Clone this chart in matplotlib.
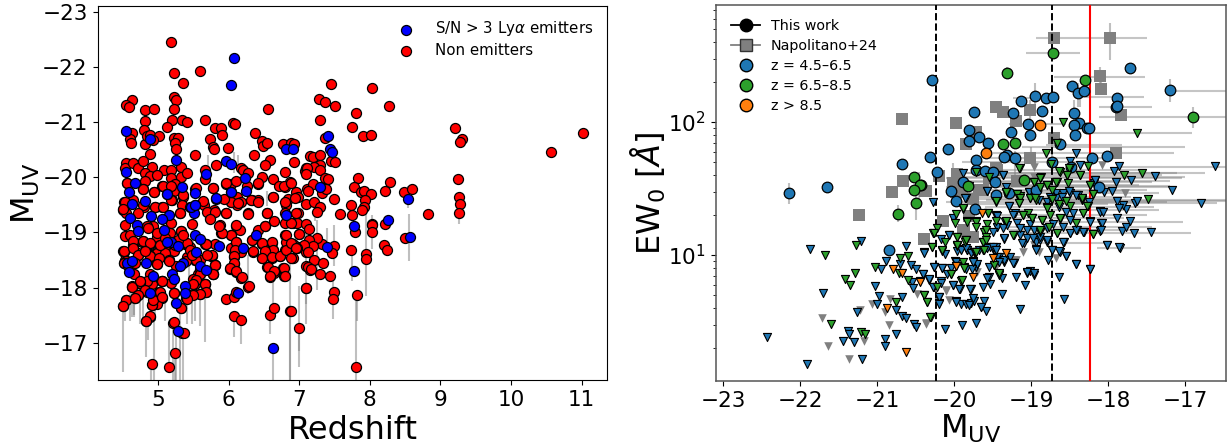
import numpy as np
import matplotlib
matplotlib.use("Agg")
import matplotlib.pyplot as plt
from matplotlib.lines import Line2D

# left panel, (redshift, M_UV)
non_emitters = np.array([
    [5.18,-22.44],[5.23,-21.88],[5.36,-21.71],[5.60,-21.92],[4.63,-21.39],[4.55,-21.31],[4.59,-21.27],[4.81,-21.22],
    [4.95,-21.24],[5.23,-21.45],[5.25,-21.40],[5.23,-21.23],[5.20,-21.04],[4.82,-21.01],[5.34,-21.03],[5.41,-21.00],
    [5.67,-21.04],[5.13,-20.91],[5.81,-20.90],[5.89,-20.90],[5.90,-20.77],[6.06,-20.99],[6.09,-20.96],[6.56,-21.23],
    [6.38,-20.81],[4.80,-20.86],[4.63,-20.80],[4.61,-20.69],[4.62,-20.62],[4.82,-20.60],[4.84,-20.74],[4.89,-20.77],
    [5.02,-20.75],[4.93,-20.68],[5.22,-20.71],[5.29,-20.71],[5.24,-20.62],[5.25,-20.52],[4.89,-20.43],[5.74,-20.70],
    [5.78,-20.54],[5.80,-20.52],[5.99,-20.53],[5.53,-20.40],[6.47,-20.66],[6.49,-20.57],[6.55,-20.62],[6.36,-20.41],
    [6.59,-20.32],[6.52,-20.22],[6.77,-20.61],[6.88,-20.62],[6.92,-20.60],[6.92,-20.28],
    [4.55,-20.26],[4.53,-20.17],[4.65,-20.26],[4.71,-20.17],[4.79,-20.30],[4.91,-20.18],[5.08,-20.14],[5.19,-20.13],
    [5.32,-20.18],[5.19,-19.99],[5.33,-20.00],[5.41,-20.07],[4.82,-20.08],[4.89,-20.02],[4.82,-19.93],[4.98,-20.04],
    [4.56,-19.90],[5.06,-19.84],[4.79,-19.78],[4.94,-19.73],[5.24,-19.87],[5.22,-19.75],[5.36,-19.65],[5.52,-19.78],
    [5.67,-20.13],[5.67,-19.97],[5.78,-19.81],[5.82,-20.22],[5.97,-19.88],[6.04,-19.88],[6.11,-19.93],[6.17,-20.16],
    [6.21,-20.14],[6.28,-20.08],[6.26,-19.84],[6.42,-19.88],[6.47,-20.01],[6.63,-19.97],[6.80,-20.10],[6.80,-19.82],
    [6.87,-19.91],[6.72,-19.85],[6.96,-19.73],[6.99,-19.64],[6.84,-19.61],[6.63,-19.64],[6.33,-19.59],[6.42,-19.58],
    [6.04,-19.55],[6.12,-19.65],[6.18,-19.56],[5.64,-19.56],[5.20,-19.58],[4.96,-19.47],[5.06,-19.46],[4.80,-19.47],
    [4.65,-19.59],[4.52,-19.56],[4.50,-19.41],[4.55,-19.35],[5.34,-19.50],[5.31,-19.35],[5.65,-19.50],[5.79,-19.40],
    [5.73,-19.26],[5.96,-19.35],[6.12,-19.50],[6.28,-19.35],[6.55,-19.35],[6.82,-19.50],[6.80,-19.35],[6.99,-19.36],
    [7.10,-19.52],[7.11,-19.78],[7.08,-20.11],[7.10,-20.17],[7.15,-20.38],
    [4.51,-17.67],[4.55,-17.77],[4.63,-18.01],[4.67,-17.82],[4.71,-17.86],[4.76,-18.07],[4.84,-17.92],[4.92,-18.07],
    [5.06,-18.12],[5.02,-17.93],[5.05,-17.82],[4.98,-17.71],[4.91,-17.69],[4.83,-17.40],[4.89,-17.47],[4.91,-16.62],
    [5.16,-16.56],[5.24,-16.81],[5.21,-17.37],[5.32,-17.64],[5.34,-17.18],[5.37,-17.18],[5.23,-17.91],[5.40,-17.81],
    [5.49,-17.88],[5.59,-17.89],[5.68,-17.92],[5.67,-18.06],[5.53,-18.06],[5.57,-18.16],[5.60,-18.25],[5.78,-18.25],
    [5.81,-18.41],[5.75,-18.58],[5.60,-18.51],[5.50,-18.57],[5.67,-18.79],[5.81,-18.80],[5.89,-18.99],[5.96,-17.79],
    [6.07,-17.48],[6.18,-17.42],[6.08,-17.83],[6.10,-17.92],[6.28,-18.01],[6.18,-18.18],[6.10,-18.28],[6.02,-18.34],
    [6.08,-18.43],[6.08,-18.56],[6.04,-18.72],[6.11,-18.83],[6.04,-18.95],[6.18,-18.65],[6.34,-18.65],[6.33,-18.86],
    [6.48,-18.80],[6.51,-18.65],[6.48,-18.53],[6.61,-18.81],[6.63,-18.68],[6.62,-18.54],[6.73,-18.57],[6.55,-18.37],
    [6.64,-18.27],[6.59,-18.19],[6.59,-17.50],[6.65,-17.64],[6.77,-18.36],[6.79,-18.22],[6.80,-18.68],[6.80,-18.95],
    [6.81,-18.83],[6.90,-18.54],[6.94,-18.75],[6.99,-18.74],[7.00,-18.97],[7.10,-18.65],[7.10,-18.39],[7.15,-18.33],
    [7.09,-17.99],[6.87,-17.58],[7.00,-17.28],[6.51,-19.11],[6.42,-19.04],[6.11,-19.11],[6.16,-19.05],[5.88,-19.13],
    [4.52,-18.65],[4.53,-18.50],[4.52,-18.45],[4.60,-18.37],[4.66,-18.25],[4.72,-18.60],[4.65,-18.77],[4.78,-18.83],
    [4.83,-18.71],[4.89,-18.80],[4.89,-18.57],[4.97,-18.63],[5.03,-18.77],[4.98,-18.92],[5.10,-19.03],[5.33,-19.01],
    [5.23,-18.69],[5.10,-18.68],[5.16,-18.50],[4.98,-18.43],[4.89,-18.25],[5.26,-18.40],[5.19,-18.08],[5.38,-18.80],
    [5.41,-18.56],[5.45,-18.74],[4.77,-18.10],
    [7.45,-21.68],[8.03,-21.62],[7.28,-21.42],[7.37,-21.36],[7.51,-21.29],[8.27,-21.29],[7.80,-21.17],[7.30,-21.04],
    [7.75,-20.91],[9.21,-20.89],[11.02,-20.80],[10.57,-20.45],[9.31,-20.69],[9.28,-20.63],[7.91,-20.74],[8.01,-20.77],
    [7.37,-20.71],[7.19,-20.36],[7.29,-20.40],[7.29,-20.23],[7.21,-20.19],[7.11,-20.17],[7.30,-20.14],[7.10,-20.06],
    [7.37,-19.99],[7.41,-19.97],[7.45,-20.29],[7.51,-20.27],[7.83,-19.99],[7.77,-19.82],[8.29,-19.91],[8.21,-19.76],
    [7.87,-19.73],[7.92,-19.76],[8.01,-19.70],[9.25,-19.97],[8.49,-19.73],[8.60,-19.78],[9.27,-19.65],[9.28,-19.52],
    [9.26,-19.36],[8.82,-19.33],[7.19,-19.88],[7.13,-19.76],[7.32,-19.72],[7.38,-19.78],[7.49,-19.61],[7.21,-19.56],
    [7.30,-19.47],[7.25,-19.37],[7.58,-19.34],[7.73,-19.50],[7.93,-19.58],[7.92,-19.47],[7.89,-19.40],[7.75,-19.32],
    [8.03,-19.16],
    [6.91,-19.17],[6.97,-19.17],[7.09,-19.15],[7.14,-19.06],[7.00,-18.97],[8.03,-19.14],[8.03,-19.00],[7.79,-19.01],
    [8.22,-19.16],[8.50,-18.90],[8.20,-18.77],[8.25,-18.68],[7.74,-18.69],[7.94,-18.61],[7.95,-18.52],[7.49,-18.76],
    [7.46,-18.63],[7.33,-18.79],[7.25,-18.90],[7.14,-18.87],[7.20,-18.75],[7.07,-18.78],[6.91,-18.79],[6.97,-18.72],
    [7.12,-18.65],[6.91,-18.54],[7.21,-18.51],[7.34,-18.44],[7.12,-18.38],[7.17,-18.34],[7.30,-18.25],[7.43,-18.21],
    [7.09,-17.99],[7.49,-17.93],[7.48,-17.80],[7.82,-17.86],[6.88,-17.58],[7.80,-16.56],
    [4.56,-19.90],[4.79,-19.78],[4.95,-19.73],[5.07,-19.84],[5.19,-19.84],[5.36,-19.67],[5.19,-19.58],[4.96,-19.47],
    [5.07,-19.46],[4.79,-19.50],[4.53,-19.56],[4.51,-19.43],[4.72,-19.35],[5.31,-19.35],[5.19,-19.17],[4.93,-19.11],
    [4.84,-19.11],[4.53,-19.14],[5.32,-19.02],[4.79,-18.85],[4.89,-18.80],[5.03,-18.78],[5.38,-18.81],[5.68,-18.79],
    [5.22,-18.66],[4.98,-18.63],[4.72,-18.62],[4.51,-18.66],[5.10,-18.63],[4.89,-18.58],[4.98,-18.45],[5.16,-18.50],
    [5.52,-18.51],[5.76,-18.58],[5.81,-18.42],[5.78,-18.24],[5.57,-18.24],[5.50,-18.15],[5.67,-18.06],[5.05,-18.12],
    [4.75,-18.09],[4.63,-18.03],[4.84,-18.12],[5.48,-19.16],[5.64,-19.57],[5.69,-19.38],[5.81,-19.38],[5.74,-19.24],
    [5.54,-19.81],[5.78,-19.81],[5.96,-19.35],[6.04,-19.55],[6.14,-19.53],[6.28,-19.34],[6.11,-19.13],[6.04,-18.96],
    [6.11,-18.83],[6.09,-18.69],[6.34,-18.66],[6.08,-18.57],[6.08,-18.44],[6.02,-18.36],[6.11,-18.30],[6.19,-18.19],
    [6.55,-19.35],[6.63,-19.64],[6.32,-19.58],[6.42,-19.56],[6.64,-19.20],[6.52,-19.11],[6.33,-18.87],[6.48,-18.81],
    [6.61,-18.82],[6.63,-18.69],[6.52,-18.66],[6.48,-18.53],[6.62,-18.56],[6.73,-18.57],[6.81,-18.68],[6.89,-18.54],
    [6.56,-18.38],[6.64,-18.30],[6.78,-18.36],[6.80,-18.22],[6.59,-18.21],[6.29,-18.03],[6.80,-19.17],[6.81,-18.96],
    [6.89,-19.17],[6.78,-19.84],[6.89,-19.90],[6.94,-19.63],[6.80,-19.56],[6.96,-19.35],[6.89,-18.81],[6.96,-18.72],
    [5.93,-19.60],[5.97,-19.89],[6.42,-19.89],[5.90,-18.99],[5.86,-19.11],
    [4.53,-18.93],[4.60,-18.96],[4.65,-18.84],[4.52,-18.66],[4.65,-18.72],[4.72,-18.60],[4.79,-18.84],[4.89,-18.81],
    [5.03,-18.78],[4.89,-18.57],[5.02,-18.54],[4.98,-18.43],[5.16,-18.49],[5.41,-18.81],[5.45,-18.69],[5.68,-18.79],
    [5.76,-18.59],[5.81,-18.42],[5.78,-18.25],[5.59,-18.34],[5.59,-18.24],[5.54,-18.14],[5.50,-18.07],[5.67,-18.07],
    [5.68,-17.92],[5.59,-17.89],[5.49,-17.87],[5.41,-17.80],[5.32,-17.64],[5.23,-17.90],[5.03,-17.93],[5.05,-18.12],
    [4.75,-18.08],[4.63,-18.02],[4.82,-17.96],[4.71,-17.86],[4.55,-17.78],[4.50,-17.67],[4.91,-17.69],[4.93,-17.78],
    [5.05,-17.84],[4.89,-17.48],[4.83,-17.40],[5.22,-17.38],[4.67,-17.81],[4.75,-18.12],[4.98,-18.99],[5.17,-18.99],
    [5.33,-19.02],[4.86,-19.09],[4.55,-18.48],[4.52,-18.45],[4.57,-18.40],[4.67,-18.45],[4.82,-18.66],[5.24,-18.78],
    [5.10,-18.90],[5.29,-18.87],[5.36,-18.96],[5.54,-18.51],[5.69,-18.60],[5.40,-18.48],[5.48,-18.60],
])

emitters = np.array([
    [6.08,-22.15],[6.03,-21.67],[4.54,-20.84],[4.88,-20.69],[5.26,-20.32],[4.54,-20.09],[4.68,-19.90],[4.59,-19.74],
    [4.63,-19.52],[4.81,-19.57],[5.13,-19.69],[5.34,-19.82],[5.52,-19.72],[5.68,-20.05],[5.97,-20.29],[6.04,-20.24],
    [6.23,-19.98],[6.25,-19.75],[6.03,-19.73],[5.82,-19.61],[5.53,-19.49],[5.46,-19.46],[5.51,-19.35],[5.16,-19.32],
    [4.90,-19.30],[5.05,-19.25],[4.61,-19.26],[6.81,-20.51],[6.91,-20.52],[6.82,-19.32],[4.70,-19.14],[4.71,-19.03],
    [5.08,-19.05],[5.53,-18.95],[5.59,-18.88],[5.86,-18.75],[6.39,-18.95],[6.20,-18.72],[5.18,-18.83],[5.29,-18.75],
    [5.54,-18.65],[4.56,-18.45],[4.63,-18.48],[4.83,-18.45],[4.59,-18.29],[4.93,-18.22],[4.89,-17.91],[5.20,-18.25],
    [5.23,-18.15],[5.35,-18.45],[5.31,-18.40],[5.60,-18.40],[5.68,-18.33],[5.38,-18.03],[5.38,-17.90],[5.25,-17.72],
    [5.28,-17.21],[6.14,-17.90],[6.63,-16.91],[7.41,-20.74],[7.44,-20.52],[7.46,-20.45],[7.29,-19.83],[8.54,-19.61],
    [8.26,-19.22],[7.78,-19.11],[8.57,-18.91],[7.40,-18.73],[7.77,-18.31],[5.13,-19.70],[5.47,-19.47],[5.53,-19.50],
    [5.82,-19.63],[6.03,-19.73],[5.13,-18.83],
])

# grey M_UV error bars, (redshift, top, bottom)
mag_bars = np.array([
    [4.50,-17.68,-16.47],[4.63,-17.95,-17.47],[4.66,-17.85,-17.47],[4.74,-17.90,-17.35],[4.83,-17.35,-16.74],
    [4.86,-17.40,-17.05],[4.90,-16.62,-16.33],[4.94,-17.40,-16.33],[5.16,-17.35,-16.56],[5.24,-16.80,-16.33],
    [5.26,-17.20,-16.33],[5.31,-17.60,-16.33],[5.35,-17.16,-16.33],[5.21,-17.35,-16.33],[5.48,-17.85,-17.35],
    [5.67,-17.85,-17.01],[6.07,-17.47,-17.10],[6.17,-17.40,-16.98],[6.28,-18.60,-17.89],[6.63,-18.16,-17.47],
    [6.63,-16.90,-16.33],[6.58,-17.47,-17.17],[6.87,-17.53,-16.33],[7.00,-17.23,-16.56],[7.10,-17.95,-17.35],
    [5.50,-18.90,-18.40],[5.71,-20.40,-20.13],[6.07,-20.45,-20.08],[6.14,-20.40,-20.13],[6.54,-19.75,-19.48],
    [6.40,-19.62,-19.48],[7.09,-19.10,-17.70],[7.00,-18.03,-16.85],[7.49,-19.14,-18.39],[7.40,-19.08,-18.63],
    [7.48,-18.20,-17.43],[7.25,-19.23,-17.96],[7.80,-17.78,-16.33],[7.82,-17.85,-17.39],[7.95,-19.35,-17.85],
    [8.56,-19.34,-18.48],[6.87,-18.50,-16.33],[8.03,-19.32,-18.70],[7.75,-18.72,-18.12],[9.27,-19.30,-19.15],
    [8.54,-19.85,-19.45],[7.23,-19.50,-19.20],
    [4.53,-17.80,-17.40],[4.61,-17.90,-17.40],[4.66,-17.85,-17.50],[4.79,-17.90,-17.45],[4.96,-17.85,-17.40],
    [5.10,-17.95,-17.40],[5.41,-17.80,-17.35],[5.52,-17.85,-17.40],[5.59,-17.85,-17.30],[5.44,-18.50,-17.90],
])

# right panel, (M_UV, log10 EW0)
circ_low = np.array([
    [-20.29,2.313],[-17.71,2.408],[-17.20,2.238],[-18.47,2.270],[-18.39,2.220],[-18.31,2.235],[-17.88,2.180],[-17.90,2.110],
    [-17.89,2.118],[-18.95,2.195],[-18.81,2.183],[-18.71,2.185],[-19.13,2.160],[-18.86,2.080],[-19.24,2.067],[-19.74,2.077],
    [-18.44,2.067],[-19.04,1.987],[-18.38,1.995],[-18.44,1.975],[-18.27,1.955],[-18.25,1.955],[-19.26,1.927],[-19.01,1.899],
    [-18.43,1.902],[-19.81,1.942],[-19.81,1.857],[-19.68,1.884],[-19.56,1.839],[-18.62,1.834],[-20.08,1.799],[-20.31,1.734],
    [-18.21,1.729],[-18.02,1.744],[-19.31,1.749],[-19.35,1.737],[-19.21,1.732],[-19.72,1.711],[-18.73,1.701],[-20.22,1.621],
    [-19.71,1.639],[-19.60,1.631],[-19.50,1.624],[-19.47,1.551],[-19.88,1.549],[-20.04,1.481],[-19.45,1.451],[-19.97,1.403],
    [-19.73,1.348],[-18.94,1.488],[-19.29,1.463],[-18.12,1.508],[-18.48,1.664],[-22.14,1.468],[-21.65,1.511],[-20.68,1.684],
    [-20.84,1.037],
])
circ_mid = np.array([
    [-19.31,2.371],[-18.71,2.516],[-18.30,2.318],[-16.90,2.037],[-19.37,1.837],[-19.21,1.842],[-19.09,1.561],[-19.82,1.521],
    [-20.43,1.524],[-20.52,1.589],[-20.44,1.524],[-20.52,1.488],[-20.50,1.391],[-20.73,1.308],
])
circ_high = np.array([[-18.89,1.975],[-19.59,1.769]])
squares = np.array([
    [-18.70,2.629],[-17.98,2.634],[-18.10,2.343],[-18.09,2.250],[-17.83,2.052],[-19.46,2.112],[-19.37,2.077],[-19.02,2.092],
    [-19.20,2.010],[-19.97,1.992],[-19.71,1.927],[-19.85,1.834],[-18.70,1.879],[-17.90,1.767],[-19.02,1.729],[-19.45,1.651],
    [-20.19,1.596],[-20.02,1.539],[-19.96,1.609],[-19.98,1.476],[-20.37,1.483],[-19.18,1.559],[-19.63,1.488],[-19.76,1.418],
    [-20.14,1.258],[-19.81,1.293],[-20.67,2.025],[-20.66,1.554],[-20.81,1.471],[-21.23,1.300],[-20.38,1.483],[-19.87,1.187],
    [-20.39,1.117],[-19.68,1.489],[-19.44,1.639],[-19.76,1.138],[-19.89,1.176],[-19.55,1.580],[-19.90,1.480],
])
tri_grey = np.array([
    [-18.96,1.664],[-18.08,1.676],[-17.78,1.468],[-18.90,1.025],[-18.68,0.974],[-18.78,0.962],[-20.11,0.736],[-20.36,0.481],
    [-21.71,0.526],[-21.63,0.313],[-21.36,0.220],[-21.17,0.356],[-21.22,0.586],[-20.84,0.476],[-20.90,0.569],[-21.06,0.631],
    [-20.83,0.669],[-20.48,0.707],[-20.36,0.486],[-20.11,0.732],[-20.07,0.662],[-19.70,0.870],[-19.45,0.910],[-19.20,0.960],
    [-18.96,1.589],[-19.09,1.088],[-18.96,1.076],[-19.22,0.963],[-19.10,1.020],
])
tri_low = np.array([
    [-21.87,1.043],[-21.21,1.103],[-22.43,0.386],[-21.91,0.178],[-21.70,0.712],[-21.44,0.351],[-21.38,0.426],[-21.37,0.406],
    [-21.30,0.343],[-21.20,0.215],[-21.26,0.574],[-21.03,0.767],[-20.98,0.689],[-21.00,0.632],[-20.95,0.895],[-20.88,0.955],
    [-20.90,0.368],[-20.89,0.313],[-20.76,0.406],[-20.67,0.687],[-20.76,0.586],[-20.68,0.544],[-20.62,0.526],[-20.52,0.481],
    [-20.50,0.456],[-20.12,0.441],[-19.90,0.474],[-19.72,0.489],[-20.63,1.068],[-20.70,0.932],[-20.56,0.927],[-20.50,0.897],
    [-20.55,0.794],[-20.53,0.752],[-20.40,0.857],[-20.32,0.814],[-20.39,1.020],[-20.26,0.907],[-20.16,0.902],[-20.26,0.757],
    [-20.17,0.802],[-20.19,0.687],[-20.20,0.637],[-20.02,0.777],[-20.09,0.857],[-19.92,0.742],[-19.97,0.652],[-19.91,0.632],
    [-19.85,0.632],[-19.78,0.637],[-19.74,0.657],[-19.63,0.757],[-19.53,0.782],[-19.38,0.707],[-19.58,0.576],[-19.65,0.611],
    [-19.61,0.657],[-19.78,0.744],[-19.99,0.952],[-19.76,0.952],[-19.96,1.033],[-19.83,1.037],[-19.59,1.058],[-19.50,1.045],
    [-19.42,0.982],[-19.35,0.957],[-19.55,0.832],[-19.42,0.857],[-19.85,0.895],[-19.72,0.907],[-20.07,1.153],
    [-20.39,1.017],[-20.40,0.857],[-20.32,0.817],[-20.26,0.907],[-20.16,0.899],[-20.17,0.792],[-20.27,0.756],[-20.19,0.681],
    [-20.20,0.631],[-20.02,0.774],[-19.93,0.741],[-19.79,0.741],[-19.97,0.649],[-19.81,0.624],[-19.76,0.674],[-19.65,0.611],
    [-19.14,0.591],[-19.08,0.774],[-19.19,0.832],[-19.05,0.867],[-19.02,0.882],[-18.96,0.847],[-18.64,0.837],[-18.57,0.669],
    [-18.42,0.929],[-18.24,0.894],[-18.55,0.994],[-18.63,1.025],[-18.73,1.037],[-18.93,1.042],[-19.09,1.087],[-18.94,1.100],
    [-18.88,1.112],[-18.79,1.100],[-18.57,1.095],[-18.49,1.162],[-18.40,1.187],[-18.31,1.170],[-18.10,1.182],[-18.01,1.075],
    [-17.85,1.050],[-17.86,1.062],[-17.82,1.180],[-17.66,1.162],[-17.45,1.172],[-17.77,1.208],[-17.72,1.253],[-17.88,1.278],
    [-18.09,1.238],[-18.24,1.255],[-18.10,1.330],[-17.88,1.405],[-17.77,1.343],[-17.81,1.376],[-17.86,1.350],[-17.65,1.388],
    [-17.63,1.408],[-16.79,1.388],[-17.17,1.488],[-16.61,1.669],[-17.39,1.596],[-17.70,1.563],[-17.90,1.551],[-17.95,1.483],
    [-17.92,1.634],[-17.86,1.671],[-18.05,1.471],[-18.17,1.563],[-18.18,1.538],[-18.25,1.401],[-18.36,1.676],[-18.50,1.706],
    [-18.42,1.769],[-19.88,1.619],[-19.36,1.601],[-19.33,1.508],[-19.57,1.483],[-19.85,1.426],[-20.27,1.396],[-20.02,1.275],
    [-19.29,1.368],[-19.45,1.295],[-19.21,1.313],[-18.99,1.275],[-19.03,1.476],[-18.79,1.400],[-18.68,1.463],[-18.58,1.468],
    [-18.50,1.468],[-18.39,1.451],[-18.49,1.263],[-19.44,1.213],[-19.34,1.250],[-19.14,1.150],[-19.01,1.233],[-19.35,1.117],
    [-19.53,1.062],[-19.46,1.057],[-19.83,1.037],[-19.74,1.025],[-19.91,1.042],[-20.12,1.007],[-20.17,1.117],[-20.07,1.150],
    [-19.96,1.075],[-19.98,0.949],[-19.76,0.949],[-19.70,0.932],[-20.04,0.899],[-19.77,0.892],[-19.57,0.829],[-19.38,0.824],
    [-19.54,0.912],[-19.44,0.987],[-19.35,0.949],[-19.27,0.987],[-19.22,0.942],
    [-19.86,1.426],[-19.36,1.602],[-19.57,1.481],[-19.45,1.301],[-19.29,1.371],[-19.03,1.476],[-18.88,1.514],[-18.79,1.527],
    [-18.68,1.426],[-18.60,1.439],[-18.51,1.481],[-18.42,1.451],[-18.34,1.414],[-18.17,1.564],[-18.10,1.326],[-18.07,1.326],
    [-18.08,1.238],[-18.09,1.188],[-18.32,1.176],[-18.24,1.251],[-18.45,1.314],[-18.55,1.326],[-18.64,1.364],[-18.79,1.364],
    [-18.75,1.439],[-18.90,1.414],[-19.24,1.301],[-19.44,1.296],[-19.18,1.238],[-19.31,1.226],[-19.44,1.213],[-19.37,1.201],
    [-19.50,1.176],[-19.35,1.126],[-19.14,1.201],[-19.05,1.188],[-18.96,1.188],[-18.88,1.176],[-18.79,1.206],[-18.71,1.231],
    [-18.58,1.213],[-18.49,1.163],[-18.42,1.188],[-19.05,1.126],[-18.98,1.126],[-18.89,1.138],[-18.79,1.113],[-18.94,1.038],
    [-19.12,1.088],[-18.73,1.038],[-18.64,1.030],[-18.55,0.995],[-18.78,0.963],[-18.42,0.930],[-18.24,0.893],[-18.58,1.096],
    [-18.02,1.076],[-19.24,0.938],[-19.35,0.963],[-19.42,0.950],[-19.76,0.950],[-19.05,0.870],[-18.96,0.862],[-19.57,1.050],
    [-19.50,1.063],[-19.46,1.038],[-19.91,1.038],[-19.84,1.050],[-19.78,1.013],[-19.68,1.038],
])
tri_mid = np.array([
    [-18.74,1.681],[-19.71,1.621],[-19.15,1.656],[-18.63,1.626],[-18.50,1.651],[-18.36,1.601],[-18.26,1.671],[-17.79,1.601],
    [-17.56,1.619],[-17.48,1.421],[-18.24,1.526],[-18.19,1.458],[-18.52,1.538],[-18.59,2.002],[-17.62,1.917],[-18.80,1.764],
    [-18.67,1.839],[-18.96,1.551],[-18.87,1.583],[-18.79,1.526],[-18.67,1.546],[-18.88,1.513],[-18.73,1.488],[-19.18,1.458],
    [-19.14,1.443],[-19.01,1.426],[-18.94,1.413],[-18.73,1.418],[-18.64,1.383],[-18.50,1.368],[-18.34,1.418],[-18.26,1.368],
    [-19.16,1.388],[-19.33,1.463],[-19.46,1.400],[-19.89,1.343],[-19.98,1.308],[-19.99,1.238],[-19.56,1.313],[-19.83,1.255],
    [-19.71,1.258],[-19.57,1.233],[-19.46,1.255],[-19.32,1.258],[-19.11,1.300],[-19.04,1.313],[-18.86,1.263],[-18.75,1.300],
    [-18.62,1.270],[-18.42,1.238],[-18.32,1.318],[-18.77,1.208],[-18.88,1.175],[-19.22,1.150],[-19.61,1.175],[-19.63,1.100],
    [-19.96,1.132],[-19.85,1.112],[-20.12,1.100],[-20.27,1.167],[-20.22,1.200],[-20.29,1.057],[-20.16,1.032],[-19.96,1.067],
    [-19.73,1.017],[-19.63,1.037],[-19.87,0.912],[-20.04,0.857],[-19.91,0.807],[-19.42,0.847],[-19.48,0.924],[-20.22,0.761],
    [-20.39,0.699],[-20.35,0.649],[-20.30,0.536],[-18.66,1.162],[-18.20,1.157],[-18.53,1.601],
    [-21.67,1.002],[-21.27,1.073],[-21.60,0.481],[-21.42,0.819],[-21.35,0.774],[-21.28,0.865],[-21.21,0.418],[-21.16,0.408],
    [-21.02,0.912],[-20.76,0.644],[-20.72,0.865],[-20.70,0.977],[-20.60,0.990],[-20.60,0.812],[-20.39,0.699],[-20.35,0.649],
    [-20.31,0.536],
    [-19.16,1.657],[-18.64,1.632],[-18.51,1.657],[-18.36,1.602],[-18.53,1.602],[-19.55,1.589],[-19.81,1.522],[-18.96,1.552],
    [-18.88,1.582],[-19.33,1.471],[-19.18,1.456],[-19.14,1.426],[-19.16,1.389],[-19.46,1.406],[-19.01,1.426],[-18.95,1.426],
    [-18.68,1.552],[-18.79,1.356],[-18.55,1.406],[-18.34,1.426],[-18.23,1.527],[-18.19,1.456],[-18.27,1.371],[-18.32,1.314],
    [-18.63,1.276],[-18.86,1.263],[-19.11,1.301],[-18.99,1.281],[-19.32,1.256],[-19.56,1.314],[-19.89,1.351],[-19.71,1.251],
    [-19.72,1.213],[-19.83,1.251],[-19.59,1.188],[-19.58,1.138],[-19.63,1.100],[-19.24,1.151],[-18.88,1.188],[-18.66,1.163],
    [-18.20,1.158],[-19.61,1.038],[-19.86,1.100],[-19.88,0.950],[-19.73,1.020],[-19.42,0.862],[-19.48,0.925],
    [-20.26,1.163],[-20.28,1.063],[-20.15,1.038],[-19.96,1.138],[-19.85,1.113],[-19.96,1.076],[-19.72,1.026],[-19.59,1.113],
    [-19.87,0.905],[-19.90,0.813],[-20.04,0.855],
])
tri_high = np.array([
    [-20.87,0.601],[-20.79,0.895],[-20.67,0.862],[-20.63,0.268],[-20.44,0.802],[-19.97,0.920],[-19.76,0.832],[-19.50,0.977],
    [-19.32,1.012],[-19.97,0.919],[-20.44,0.799],[-19.64,1.313],
])

# grey error bars, (log10 EW0, M_UV from, M_UV to)
ew_hbars = np.array([
    [2.629,-18.94,-18.45],[2.634,-18.45,-17.50],[2.521,-19.06,-18.36],[2.341,-18.70,-17.52],[2.235,-17.20,-16.47],
    [2.183,-19.24,-18.64],[2.185,-18.29,-17.53],[2.115,-18.12,-17.43],[2.040,-18.12,-16.47],[1.985,-19.29,-18.55],
    [1.915,-18.25,-16.91],[1.814,-19.12,-17.00],[1.769,-19.50,-17.15],[1.827,-18.81,-17.82],[1.664,-17.86,-16.47],
    [1.619,-20.02,-16.74],[1.589,-20.02,-17.00],[1.551,-20.06,-17.43],[1.514,-20.11,-17.13],[1.401,-20.11,-17.24],
    [1.413,-19.59,-16.47],[1.408,-18.51,-16.47],[1.388,-18.94,-16.59],[1.338,-19.16,-17.34],[1.250,-19.07,-17.03],
    [1.167,-19.16,-16.93],[1.055,-18.14,-17.57],[1.213,-19.40,-17.43],[1.614,-19.90,-17.10],[1.463,-20.02,-17.34],
    [1.576,-20.11,-17.04],[1.640,-19.60,-17.60],[1.530,-19.90,-17.60],[1.490,-20.05,-17.50],[1.440,-19.90,-17.70],
    [1.360,-19.60,-17.40],[1.300,-19.40,-17.50],[1.520,-19.40,-17.20],[1.480,-19.30,-17.80],[1.600,-19.70,-17.30],
    [1.420,-19.70,-17.90],[1.280,-19.50,-17.80],[1.190,-19.30,-17.70],[1.700,-19.90,-18.20],[1.730,-19.60,-17.90],
    [1.560,-19.80,-17.20],[1.090,-19.00,-18.00],[1.380,-19.95,-18.00],
])
# (M_UV, log10 EW0 low, high)
ew_vbars = np.array([
    [-17.98,2.466,2.747],[-18.70,2.59,2.67],[-18.71,2.48,2.55],[-17.20,2.153,2.320],[-16.90,1.952,2.110],[-22.14,1.383,1.539],
    [-20.50,1.263,1.463],[-20.45,1.413,1.627],[-18.95,2.115,2.290],[-18.36,2.115,2.190],[-18.39,2.115,2.290],[-19.01,1.990,2.165],
    [-19.00,1.714,1.814],[-18.73,1.614,1.839],[-18.44,1.914,2.165],[-20.73,1.250,1.375],[-18.10,2.265,2.416],[-18.09,2.20,2.30],
    [-19.74,2.04,2.11],[-19.31,2.33,2.41],[-20.29,2.28,2.34],[-20.68,1.64,1.72],[-18.71,2.47,2.56],[-17.90,2.07,2.21],
    [-19.21,1.60,1.78],[-20.02,1.50,1.69],
])

vlines_dash = [-20.24, -18.73]
vline_red = -18.23
z_ticks = [5, 6, 7, 8, 9, 10, 11]
m_ticks = [-23, -22, -21, -20, -19, -18, -17]
mx_ticks = [-23, -22, -21, -20, -19, -18, -17]

fig = plt.figure(figsize=(12.27, 4.48), dpi=100)
ax1 = fig.add_axes([98 / 1227, 1 - 380 / 448, 509 / 1227, 374 / 448])
ax2 = fig.add_axes([716 / 1227, 1 - 381 / 448, 510 / 1227, 376 / 448])

ax1.vlines(mag_bars[:, 0], mag_bars[:, 1], mag_bars[:, 2], color='gray', alpha=0.5, lw=1.5, zorder=1)
ax1.scatter(non_emitters[:, 0], non_emitters[:, 1], s=52, c='red', edgecolors='k', linewidths=0.9, zorder=2, label='Non emitters')
ax1.scatter(emitters[:, 0], emitters[:, 1], s=52, c='blue', edgecolors='k', linewidths=0.9, zorder=3, label=r'S/N > 3 Ly$\alpha$ emitters')
ax1.set_xlim(4.15, 11.36)
ax1.set_ylim(-16.33, -23.1)
ax1.set_xticks(z_ticks)
ax1.set_yticks(m_ticks)
ax1.tick_params(labelsize=15.5, length=3.5, pad=4)
ax1.set_xlabel('Redshift', fontsize=23, labelpad=3)
ax1.set_ylabel(r'M$_{\rm UV}$', fontsize=23, labelpad=0)
h, l = ax1.get_legend_handles_labels()
ax1.legend(h[::-1], l[::-1], loc='upper right', frameon=False, fontsize=10.8, labelspacing=0.32, handletextpad=0.95,
           bbox_to_anchor=(1.0, 1.0))

ax2.hlines(10 ** ew_hbars[:, 0], ew_hbars[:, 1], ew_hbars[:, 2], color='gray', alpha=0.45, lw=1.5, zorder=1)
ax2.vlines(ew_vbars[:, 0], 10 ** ew_vbars[:, 1], 10 ** ew_vbars[:, 2], color='gray', alpha=0.5, lw=1.5, zorder=1)
ax2.scatter(squares[:, 0], 10 ** squares[:, 1], s=78, marker='s', c='gray', linewidths=0, zorder=2)
ax2.scatter(tri_grey[:, 0], 10 ** tri_grey[:, 1], s=38, marker='v', c='gray', linewidths=0, zorder=2)
ax2.vlines(vlines_dash, 1.13, 758, color='k', ls='--', lw=1.4, zorder=3)
ax2.axvline(vline_red, color='red', lw=1.5, zorder=3)
ax2.scatter(tri_low[:, 0], 10 ** tri_low[:, 1], s=34, marker='v', c='tab:blue', edgecolors='k', linewidths=0.8, zorder=4)
ax2.scatter(tri_mid[:, 0], 10 ** tri_mid[:, 1], s=34, marker='v', c='tab:green', edgecolors='k', linewidths=0.8, zorder=5)
ax2.scatter(tri_high[:, 0], 10 ** tri_high[:, 1], s=34, marker='v', c='tab:orange', edgecolors='k', linewidths=0.8, zorder=5)
ax2.scatter(circ_low[:, 0], 10 ** circ_low[:, 1], s=58, c='tab:blue', edgecolors='k', linewidths=0.9, zorder=4)
ax2.scatter(circ_mid[:, 0], 10 ** circ_mid[:, 1], s=58, c='tab:green', edgecolors='k', linewidths=0.9, zorder=5)
ax2.scatter(circ_high[:, 0], 10 ** circ_high[:, 1], s=58, c='tab:orange', edgecolors='k', linewidths=0.9, zorder=5)
ax2.set_yscale('log')
ax2.set_xlim(-23.09, -16.47)
ax2.set_ylim(1.13, 758)
ax2.set_xticks(mx_ticks)
ax2.tick_params(labelsize=15.5, length=3.5, pad=4)
ax2.tick_params(which='minor', length=2)
ax2.set_xlabel(r'M$_{\rm UV}$', fontsize=23, labelpad=1)
ax2.set_ylabel(r'EW$_0$ [$\mathit{\AA}$]', fontsize=23, labelpad=0)
for s in ax2.spines.values():
    s.set_color('#555555')
    s.set_linewidth(1.1)

handles = [
    Line2D([], [], color='k', marker='o', ms=9, mec='k', lw=1.3),
    Line2D([], [], color='gray', marker='s', ms=9, mfc='gray', mec='#333333', lw=1.3),
    Line2D([], [], ls='', marker='o', ms=9, mfc='tab:blue', mec='k'),
    Line2D([], [], ls='', marker='o', ms=9, mfc='tab:green', mec='k'),
    Line2D([], [], ls='', marker='o', ms=9, mfc='tab:orange', mec='k'),
]
labels = ['This work', 'Napolitano+24', 'z = 4.5–6.5', 'z = 6.5–8.5', 'z > 8.5']
ax2.legend(handles, labels, loc='upper left', frameon=False, fontsize=10.3, labelspacing=0.42, handlelength=2.0,
           handletextpad=0.75, bbox_to_anchor=(0.005, 0.997))

plt.savefig('out.png', dpi=100)
plt.close()
